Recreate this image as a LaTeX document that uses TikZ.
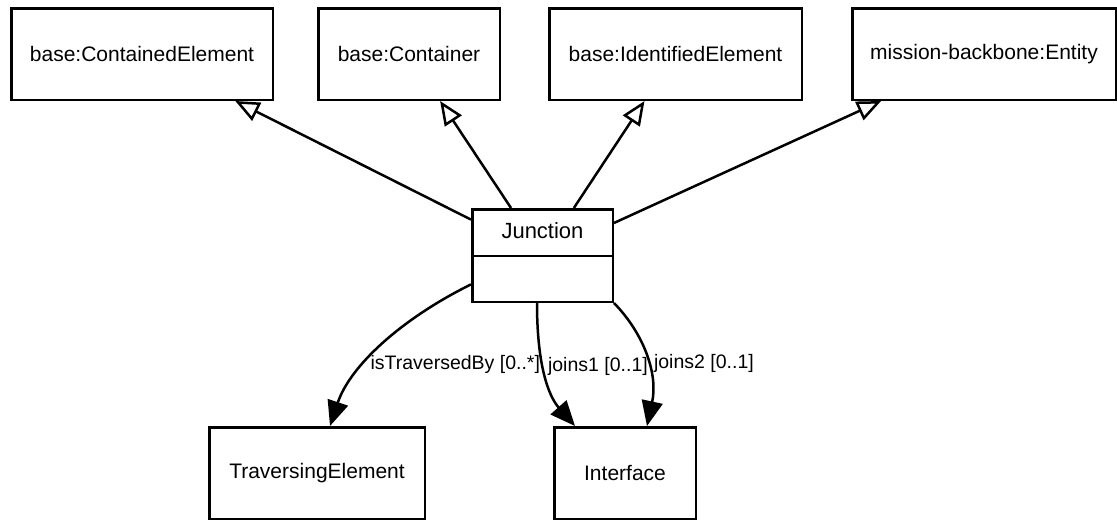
\documentclass[tikz,border=0pt]{standalone}
\usepackage{fontspec}
\usepackage{tikz}
\usetikzlibrary{positioning, arrows.meta}
\newfontfamily\umlfont{Liberation Sans}
\tikzstyle{classbox} = [rectangle, minimum height=91.5pt, text centered, draw=black, line width=2.5pt, font=\umlfont\fontsize{21}{25}\selectfont]
\tikzstyle{classname} = [font=\umlfont\fontsize{22}{26}\selectfont, inner sep=0pt]
\tikzstyle{generalize} = [line width=2.5pt, -{Triangle[open, fill=white, length=24pt, width=20pt]}]
\tikzstyle{assoc} = [line width=2.5pt, -{Triangle[length=25pt, width=21pt]}]
\tikzstyle{rolelabel} = [font=\umlfont\fontsize{19.5}{23}\selectfont, inner sep=1pt, anchor=west]

\begin{document}
\begin{tikzpicture}[x=1pt, y=-1pt]
		\useasboundingbox (0,0) rectangle (1117,520);
		%上层父类
		\node (contained) [classbox, minimum width=261.5pt] at (142,54) {base:ContainedElement};
		\node (container) [classbox, minimum width=181.5pt, right=43pt of contained] {base:Container};
		\node (identified) [classbox, minimum width=252.5pt, right=47pt of container] {base:IdentifiedElement};
		\node (entity) [classbox, minimum width=263.5pt, right=48pt of identified] {mission-backbone:Entity};
		
		%中间类及分隔线
		\node (junction) [classbox, minimum width=140.5pt, minimum height=92.5pt] at (542.5,255.5) {};
		\node (jname) [classname] at ([yshift=-23pt]junction.north) {Junction};
		\draw [line width=2.5pt] ([yshift=-48pt]junction.north west) -- ([yshift=-48pt]junction.north east);
		
		%下层关联类
		\node (traversing) [classbox, minimum width=215.5pt] at (317,473) {TraversingElement};
		\node (iface) [classbox, minimum width=141.5pt] at (625,473) {Interface};
		
		%泛化连线
		\draw [generalize] (junction) -- (contained);
		\draw [generalize] (junction) -- (container);
		\draw [generalize] (junction) -- (identified);
		\draw [generalize] (junction) -- (entity);
		
		%关联连线
		\draw [assoc] (junction.202) .. controls (401,319) and (350,366) .. ([xshift=13pt]traversing.north)
			node [rolelabel, pos=0.63, xshift=4pt] {isTraversedBy [0..*]};
		\draw [assoc] ([xshift=-5.5pt]junction.south) .. controls (537,375) and (552,400) .. ([xshift=-50pt]iface.north)
			node [rolelabel, pos=0.37, xshift=3pt] {joins1 [0..1]};
		\draw [assoc] (junction.south east) .. controls (645,335) and (658,375) .. ([xshift=22pt]iface.north)
			node [rolelabel, pos=0.55, xshift=4pt] {joins2 [0..1]};
	\end{tikzpicture}
\end{document}
